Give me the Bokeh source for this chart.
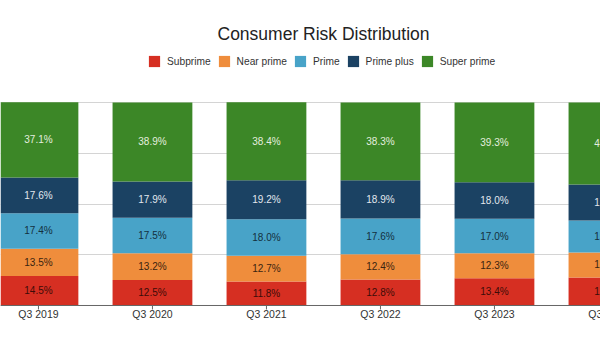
import numpy as np
from bokeh.plotting import figure
from bokeh.models import (ColumnDataSource, Range1d, FixedTicker, Label, Legend,
                          LegendItem, LabelSet, Span)
from bokeh.core.properties import value
from bokeh.embed import file_html
from bokeh.resources import INLINE

quarters = ["Q3 2019", "Q3 2020", "Q3 2021", "Q3 2022", "Q3 2023", "Q3 2024"]
subprime = [14.5, 12.5, 11.8, 12.8, 13.4, 13.8]
near_prime = [13.5, 13.2, 12.7, 12.4, 12.3, 12.3]
prime = [17.4, 17.5, 18.0, 17.6, 17.0, 15.8]
prime_plus = [17.6, 17.9, 19.2, 18.9, 18.0, 17.7]
super_prime = [37.1, 38.9, 38.4, 38.3, 39.3, 40.4]
y_ticks = [0, 25, 50, 75, 100]

series_names = ["Subprime", "Near prime", "Prime", "Prime plus", "Super prime"]
series_keys = ["subprime", "near_prime", "prime", "prime_plus", "super_prime"]
colors = ["#d62f22", "#ef8d3c", "#48a3c8", "#1b4263", "#3c8727"]
text_colors = ["#3d0c08", "#3a2410", "#14303e", "#e2e8ee", "#e4eedf"]

FONT = "Liberation Sans"
X_START = -0.333
X_END = X_START + 600 / 114.0

xs = list(range(len(quarters)))
data = dict(x=xs, subprime=subprime, near_prime=near_prime, prime=prime,
            prime_plus=prime_plus, super_prime=super_prime)
source = ColumnDataSource(data)

# frame covers the whole canvas; the value axis runs 0..100 between y=305 and y=102
p = figure(width=600, height=350, output_backend="svg", toolbar_location=None,
           x_range=Range1d(X_START, X_END),
           y_range=Range1d(-22.17, 150.25),
           min_border=0)
p.outline_line_color = None
p.background_fill_color = "white"
p.border_fill_color = "white"
p.xaxis.visible = False
p.yaxis.visible = False
p.xgrid.visible = False
p.ygrid.ticker = FixedTicker(ticks=y_ticks)
p.ygrid.grid_line_color = "#d4d4d4"
p.ygrid.grid_line_width = 1
p.ygrid.level = "underlay"

renderers = p.vbar_stack(series_keys, x="x", width=0.7, source=source,
                         color=colors, line_color=None)

# segment labels
cum = np.zeros(len(quarters))
for key, tc in zip(series_keys, text_colors):
    vals = np.array(data[key])
    mids = cum + vals / 2.0
    cum = cum + vals
    lsrc = ColumnDataSource(dict(x=xs, y=list(mids),
                                 t=[f"{v:.1f}%" for v in vals]))
    p.add_layout(LabelSet(x="x", y="y", text="t", source=lsrc,
                          text_align="center", text_baseline="middle",
                          text_font_size="10px", text_font=value(FONT),
                          text_color=tc))

# category axis: baseline, ticks and labels
p.add_layout(Span(location=0, dimension="width", line_color="#666666",
                  line_width=1))
p.ray(x=xs, y=[0] * len(xs), length=4, length_units="screen",
      angle=-np.pi / 2, line_color="#666666", line_width=1)
csrc = ColumnDataSource(dict(x=xs, y=[0] * len(xs), t=quarters))
p.add_layout(LabelSet(x="x", y="y", text="t", source=csrc, y_offset=-3,
                      text_align="center", text_baseline="top",
                      text_font=value(FONT), text_font_size="10.5px",
                      text_color="#333333"))

# title
p.add_layout(Label(x=323, y=350 - 33, x_units="screen", y_units="screen",
                   text="Consumer Risk Distribution", text_align="center",
                   text_baseline="middle", text_font=FONT,
                   text_font_size="17.5px", text_color="#222222"))

legend = Legend(items=[LegendItem(label=n, renderers=[r])
                       for n, r in zip(series_names, renderers)],
                location=(147, 350 - 68), orientation="horizontal",
                glyph_width=14, glyph_height=14, label_height=14,
                label_standoff=6, spacing=6, padding=0, margin=0,
                label_text_font=FONT, label_text_font_size="10.2px",
                label_text_color="#333333", border_line_color=None,
                background_fill_alpha=0)
p.add_layout(legend)

open("out.html", "w").write(file_html(p, INLINE))
